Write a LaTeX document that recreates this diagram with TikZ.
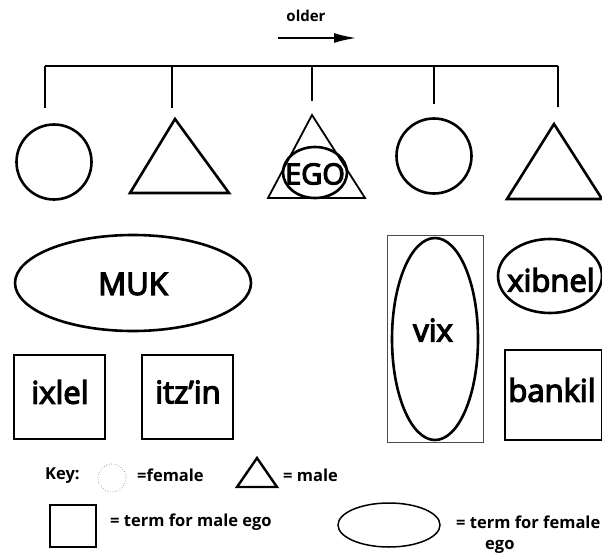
\documentclass[tikz,border=0pt]{standalone}
\usepackage{fontspec}
\setmainfont{Open Sans}
\newfontfamily\lblfont{Open Sans}[FakeBold=4]
\usetikzlibrary{arrows.meta}
\begin{document}
\begin{tikzpicture}[x=1pt,y=-1pt,
  shp/.style={line width=2.6pt},
  thinshp/.style={line width=1.8pt},
  boxshp/.style={line width=2pt},
  tree/.style={line width=1.3pt},
  lbl/.style={font=\lblfont\fontsize{31}{31}\selectfont, inner sep=0pt},
  keytxt/.style={font=\bfseries\fontsize{16.5}{17}\selectfont, inner sep=0pt, anchor=west}]
\useasboundingbox (0,0) rectangle (602,559);
% older arrow
\node[font=\bfseries\fontsize{15}{15}\selectfont, inner sep=0pt] (older) at (306,16) {older};
\coordinate (a0) at (278,38);
\coordinate (a1) at (356,38);
\draw[line width=1.6pt,-{Latex[length=22pt,width=10pt]}] (a0) -- (a1);
% sibling bar
\coordinate (L) at (45,66);
\coordinate (R) at (558,66);
\draw[tree] (L) -- (R);
\foreach \x/\b [count=\i] in {45/108,172/108,312/101,434/104,558/107}{
  \coordinate (t\i) at (\x,66);
  \coordinate (d\i) at (\x,\b);
  \draw[tree] (t\i) -- (d\i);
}
% siblings
\draw[shp] (54,162) circle (37.5);
\draw[shp, line join=miter] (130,193) -- (175,119) -- (229,193) -- cycle;
\draw[thinshp] (268,198) -- (312,115) -- (365,198) -- cycle;
\draw[shp] (315,172.5) ellipse (32 and 25.5);
\node[lbl, font=\lblfont\fontsize{29}{29}\selectfont] (ego) at (315,174) {EGO};
\draw[shp] (434,156) circle (37.5);
\draw[shp] (507,199) -- (554,124) -- (602,199) -- cycle;
% terms
\draw[shp] (133,283) ellipse (118 and 48);
\node[lbl] (muk) at (133,284) {MUK};
\draw[line width=0.9pt, black!70] (387,235) rectangle (483,442);
\draw[shp] (435,339) ellipse (43 and 101);
\node[lbl] (vix) at (433,330) {vix};
\draw[shp] (550,276) ellipse (52 and 37);
\node[lbl] (xibnel) at (551,280) {xibnel};
\draw[boxshp] (14,355) rectangle (105,439);
\node[lbl] (ixlel) at (60,392) {ixlel};
\draw[boxshp] (142,355) rectangle (233,439);
\node[lbl] (itzin) at (188,392) {itz’in};
\draw[boxshp] (505,350) rectangle (602,440);
\node[lbl] (bankil) at (552,390) {bankil};
% key
\node[keytxt] (key) at (45,476) {Key:};
\draw[line width=0.6pt, dotted, black!60] (112,478) circle (14);
\node[keytxt] (fem) at (137,475) {=female};
\draw[line width=2.4pt] (237,487) -- (257,458) -- (277,487) -- cycle;
\node[keytxt] (male) at (283,475) {= male};
\draw[line width=2.2pt] (50,505) rectangle (96,547);
\node[keytxt] (mego) at (110,522) {= term for male ego};
\draw[line width=1.5pt] (389,525) ellipse (51 and 22);
\node[keytxt] (fego) at (456,522) {= term for female};
\node[keytxt] (fego2) at (485,547) {ego};
\end{tikzpicture}
\end{document}
